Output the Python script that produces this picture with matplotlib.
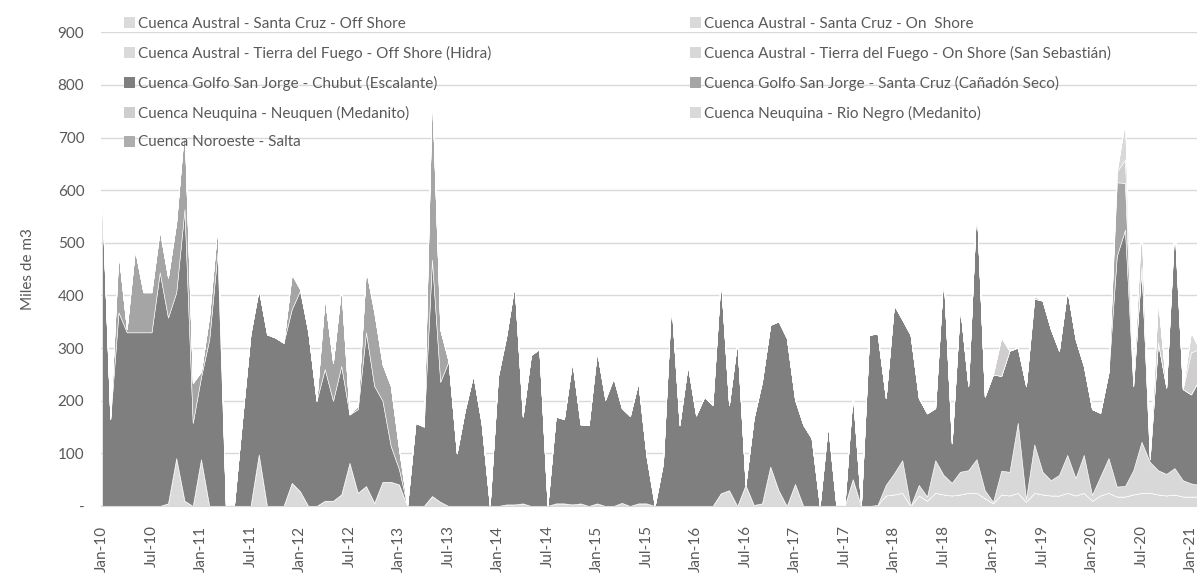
import matplotlib
matplotlib.use("Agg")
import matplotlib.pyplot as plt
from matplotlib.patches import Patch
import numpy as np
import pandas as pd

# monthly volumes (miles de m3), Jan-10 .. Feb-21
months = pd.date_range("2010-01-01", periods=134, freq="MS")

sc_off = np.zeros(134)
sc_on = [0] * 93 + [
    0, 2, 20,
    22, 25, 0, 20, 10, 25, 22, 20, 22, 25, 25, 15,
    5, 22, 20, 25, 8, 25, 22, 20, 20, 25, 20, 25,
    10, 20, 25, 18, 18, 22, 25, 25, 22, 20, 22, 18,
    18, 18]
tdf_off = [
    0, 0, 0, 0, 0, 0, 0, 0, 5, 91, 10, 0,
    89, 0, 0, 0, 0, 0, 0, 98, 0, 0, 0, 44,
    28, 0, 0, 10, 10, 22, 82, 25, 38, 6, 46, 46,
    41, 0, 0, 0, 19, 8, 0, 0, 0, 0, 0, 0,
    0, 3, 3, 5, 0, 0, 0, 5, 5, 3, 5, 0,
    5, 0, 0, 6, 0, 5, 5, 0, 0, 0, 0, 0,
    0, 0, 0, 24, 30, 0, 40, 2, 5, 75, 30, 0,
    42, 0, 0, 0, 0, 0, 0, 51, 0] + [0] * 41
tdf_on = [0] * 93 + [
    0, 0, 20,
    40, 62, 0, 20, 8, 62, 37, 24, 43, 43, 64, 15,
    3, 45, 45, 133, 5, 92, 43, 29, 39, 72, 33, 72,
    11, 36, 66, 19, 20, 46, 97, 59, 46, 41, 50, 31,
    25, 22]
escalante = [
    580, 165, 368, 330, 330, 330, 330, 444, 353, 315, 554, 158,
    156, 317, 482, 0, 0, 165, 326, 314, 326, 320, 310, 330,
    381, 330, 200, 250, 190, 244, 92, 159, 292, 222, 154, 68,
    29, 0, 158, 151, 449, 228, 275, 100, 183, 249, 157, 0,
    246, 319, 417, 165, 287, 298, 0, 165, 160, 272, 150, 154,
    289, 202, 243, 180, 171, 230, 89, 0, 81, 390, 154, 268,
    172, 207, 192, 409, 162, 313, 0, 165, 231, 269, 321, 319,
    160, 154, 129, 0, 154, 0, 0, 163, 0, 325, 326, 165,
    320, 267, 325, 165, 158, 99, 384, 75, 315, 160, 488, 178,
    242, 180, 230, 143, 215, 277, 325, 287, 236, 314, 264, 169,
    163, 121, 163, 438, 487, 160, 334, 5, 243, 164, 460, 173,
    169, 201]
canadon = [
    8, 0, 114, 6, 157, 76, 76, 80, 76, 133, 158, 76,
    10, 44, 50, 0, 0, 0, 0, 0, 0, 0, 0, 66,
    3, 0, 0, 136, 72, 149, 0, 6, 120, 140, 69, 114,
    38, 0, 0, 0, 320, 99, 0, 0, 0, 0, 0, 0] + [0] * 72 + [
    0, 0, 0, 140, 89, 0, 0, 0, 0, 0, 0, 0,
    0, 0]
neuquen = [0] * 108 + [
    0, 73, 0, 0, 0, 5, 0, 0, 0, 0, 0, 0,
    0, 0, 0, 20, 44, 19, 80, 6, 82, 0, 8, 0,
    80, 57]
rio_negro = [0] * 120 + [
    0, 0, 0, 0, 73, 0, 0, 0, 0, 0, 0, 0,
    38, 0]
salta = np.zeros(134)

labels = [
    "Cuenca Austral - Santa Cruz - Off Shore",
    "Cuenca Austral - Santa Cruz - On  Shore",
    "Cuenca Austral - Tierra del Fuego - Off Shore (Hidra)",
    "Cuenca Austral - Tierra del Fuego - On Shore (San Sebastián)",
    "Cuenca Golfo San Jorge - Chubut (Escalante)",
    "Cuenca Golfo San Jorge - Santa Cruz (Cañadón Seco)",
    "Cuenca Neuquina - Neuquen (Medanito)",
    "Cuenca Neuquina - Rio Negro (Medanito)",
    "Cuenca Noroeste - Salta",
]
colors = ["#DBDBDB", "#D9D9D9", "#DADADA", "#D8D8D8", "#7F7F7F",
          "#A5A5A5", "#CFCDCD", "#D9D9D9", "#ADADAD"]

plt.rcParams["font.family"] = ["Lato", "DejaVu Sans"]
text_color = "#595959"

fig = plt.figure(figsize=(11.97, 5.74), dpi=100)
ax = fig.add_axes([101 / 1197, 1 - 506 / 574, 1 - 101 / 1197, (506 - 32.3) / 574])

x = np.arange(len(months))
ax.stackplot(x, sc_off, sc_on, tdf_off, tdf_on, escalante, canadon,
             neuquen, rio_negro, salta, colors=colors,
             edgecolor="white", linewidth=0.4)

ax.set_ylim(0, 900)
ax.set_xlim(-0.12, (1197 - 102) / 8.25)
ax.set_yticks(range(0, 901, 100))
ax.set_yticklabels(["-"] + [str(v) for v in range(100, 901, 100)])
ticks = x[::6]
ax.set_xticks(ticks)
ax.set_xticklabels([months[i].strftime("%b-%y") for i in ticks], rotation=90)
ax.tick_params(length=0, labelsize=11, colors=text_color)
ax.tick_params(axis="y", pad=12)
ax.tick_params(axis="x", pad=14)
ax.grid(axis="y", color="#D9D9D9", linewidth=1)
ax.set_axisbelow(True)
for s in ["top", "right", "left"]:
    ax.spines[s].set_visible(False)
ax.spines["bottom"].set_color("#D9D9D9")

fig.text(28 / 1197, 1 - 269 / 574, "Miles de m3", rotation=90, va="center",
         ha="center", fontsize=11, color=text_color)

# Excel style legend: two columns filled row by row
handles = [Patch(facecolor=c) for c in colors]
for col, xpos in [(0, 124), (1, 690)]:
    idx = list(range(col, 9, 2))
    fig.legend([handles[i] for i in idx], [labels[i] for i in idx],
               loc="upper left", bbox_to_anchor=(xpos / 1197, 1 - 17 / 574),
               frameon=False, fontsize=11, labelcolor=text_color,
               handlelength=0.72, handleheight=0.72, handletextpad=0.2,
               labelspacing=0.97, borderpad=0, borderaxespad=0)

fig.savefig("out.png", dpi=100)
